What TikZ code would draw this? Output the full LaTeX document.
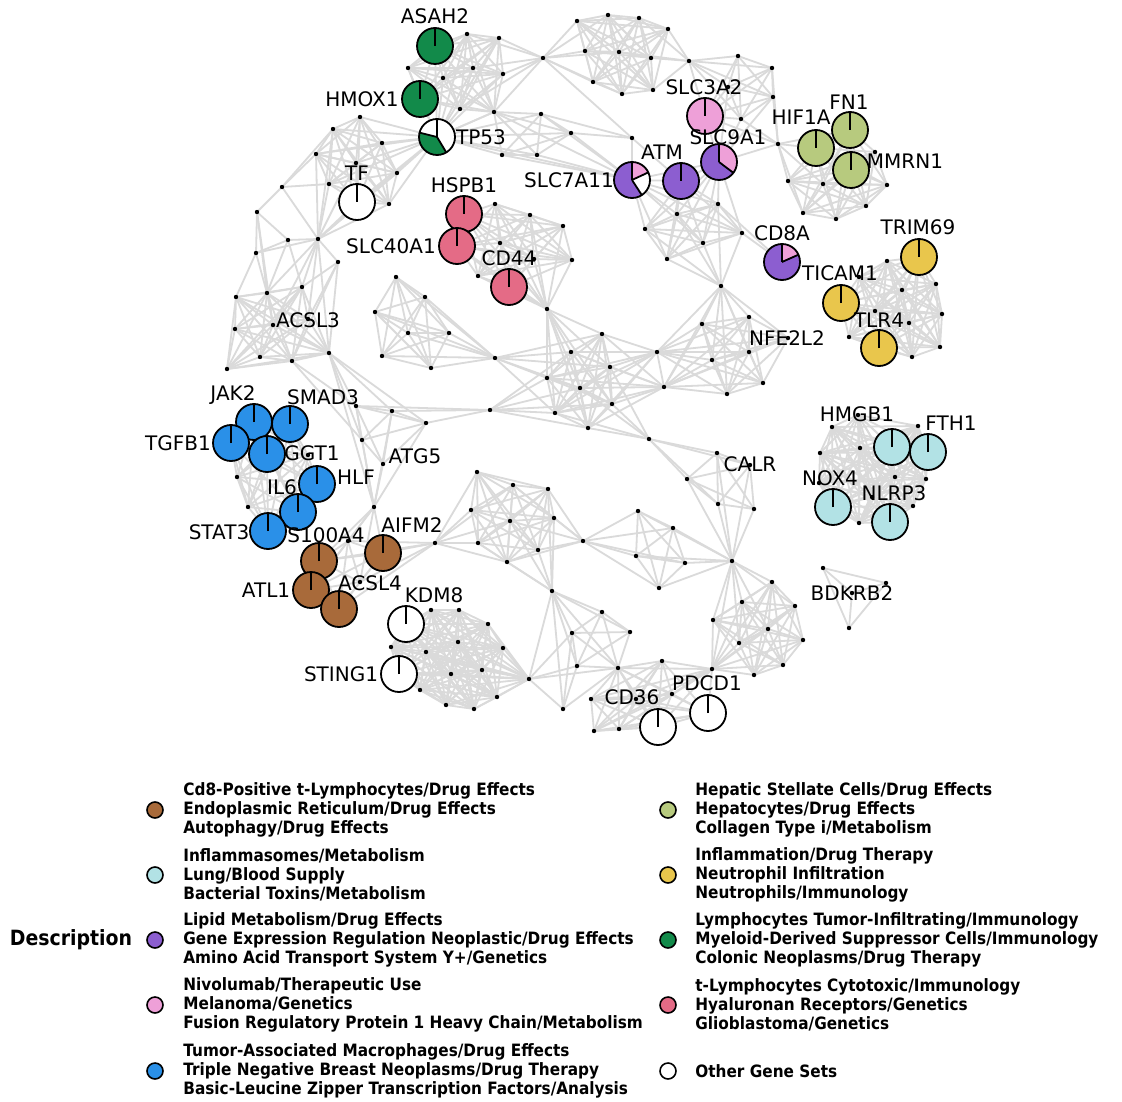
\documentclass[tikz,border=0pt]{standalone}
\usepackage{fontspec}
\setmainfont{DejaVu Sans}
\newfontfamily\legfont[FakeStretch=0.9]{DejaVu Sans}
\definecolor{edgec}{RGB}{218,218,218}
\definecolor{brownc}{RGB}{168,106,58}
\definecolor{cyanc}{RGB}{178,226,229}
\definecolor{purplec}{RGB}{140,94,208}
\definecolor{pinkc}{RGB}{238,160,216}
\definecolor{bluec}{RGB}{42,144,232}
\definecolor{olivec}{RGB}{183,202,126}
\definecolor{yellowc}{RGB}{233,198,76}
\definecolor{dgreenc}{RGB}{18,138,74}
\definecolor{redc}{RGB}{228,107,134}
\tikzset{
  edge/.style={draw=edgec,line width=0.9pt},
  pb/.style={draw=black,line width=0.9pt},
  glabel/.style={inner sep=0pt,font=\fontsize{10}{12}\selectfont},
  legdot/.style={circle,draw=black,line width=0.8pt,minimum size=8pt,inner sep=0pt},
  legtext/.style={anchor=west,align=left,inner sep=0pt,font=\legfont\bfseries\fontsize{8.5}{9.35}\selectfont},
}
\newcommand\clique[1]{%
 \foreach \ua [count=\ci] in {#1}{%
  \foreach \ub [count=\cj] in {#1}{%
   \ifnum\cj>\ci\relax\draw[edge] (\ua) -- (\ub);\fi}}}
\newcommand\fanout[2]{\foreach \ub in {#2}{\draw[edge] (#1) -- (\ub);}}
\newcommand\pieone[2]{\fill[#2] (#1) circle (9pt); \draw[pb] (#1) circle (9pt); \draw[pb] (#1) -- ++(0pt,9pt);}
\newcommand\sector[4]{\fill[#2] (#1) -- ++(#3:9pt) arc[start angle=#3, end angle=#4, radius=9pt] -- cycle;}
\newcommand\spoke[2]{\draw[pb] (#1) -- ++(#2:9pt);}
\begin{document}
\begin{tikzpicture}[x=0.5pt,y=-0.5pt]
\useasboundingbox (0,0) rectangle (1122,1101);
\fill[white] (0,0) rectangle (1122,1101);
% ---------- coordinates ----------
\foreach \n/\x/\y in {a1/467/34,a2/499/38,a3/408/68,a4/473/68,a5/443/78,a6/503/74,a7/460/109,a8/494/112,
 ASAH2/435/46,HMOX1/420/99,TP53/437/137,h1/543/58,
 j1/577/21,j2/608/15,j3/639/18,j4/668/29,j5/585/51,j6/619/52,j7/651/58,j8/593/82,j9/622/94,j10/653/90,
 h2/689/61,k1/738/56,k2/772/68,k3/773/97,k4/741/119,k5/728/87,SLC3A2/705/116,SLC9A1/719/162,h3/778/144,
 b2/541/114,b3/571/133,b4/502/155,b5/537/155,s0/632/138,
 SLC7A11/632/180,ATM/681/181,i1/718/204,i2/677/214,i3/645/229,i4/742/233,i5/703/243,i6/667/259,h4/721/286,CD8A/782/262,
 l2/875/152,l3/788/181,l4/823/184,l5/887/185,l6/803/213,l7/836/219,l8/866/206,HIF1A/816/148,FN1/850/130,MMRN1/851/170,
 m1/887/261,m2/859/277,m3/902/290,m4/936/284,m5/875/311,m6/909/323,m7/942/314,m8/849/337,m9/912/357,m10/940/347,
 TRIM69/919/257,TICAM1/841/303,TLR4/879/348,
 n1/702/324,n2/749/317,n3/657/352,n4/712/360,n5/749/352,n6/788/338,n7/664/387,n8/727/394,n9/763/383,
 g1/602/334,g2/571/352,g3/610/367,g4/547/378,g5/580/388,g6/612/404,g7/555/413,g8/588/428,g9/495/358,g10/490/410,g11/649/439,
 f1/495/204,f2/530/215,f3/563/226,f4/500/243,f5/534/259,f6/547/309,f7/572/260,f8/478/276,HSPB1/464/214,SLC40A1/457/246,CD44/509/287,
 e1/396/277,e2/425/297,e3/375/312,e4/408/333,e5/449/333,e6/382/356,e7/431/368,
 c1/360/117,c2/333/129,c3/382/143,c4/316/154,c5/356/163,c6/397/173,c7/329/184,c8/389/204,c9/282/187,TF/357/202,
 d0/318/239,d1/257/212,d2/288/240,d3/256/253,d4/338/262,d5/302/287,d6/236/297,d7/267/293,d8/235/329,d9/273/325,
 d10/308/319,d11/260/357,d12/292/361,d13/329/353,d14/227/369,
 JAK2/254/422,SMAD3/290/424,TGFB1/231/443,GGT1/267/454,HLF/317/484,IL6/298/512,STAT3/268/531,o1/237/477,o2/248/507,o3/308/455,
 p1/356/406,p2/392/411,p3/426/423,p4/362/440,p5/383/464,q0/374/507,
 S100A4/319/561,AIFM2/383/553,ATL1/311/590,ACSL4/339/609,r1/348/541,r2/360/582,r3/435/543,
 q1/477/472,q2/513/485,q3/548/489,q4/471/510,q5/510/521,q6/554/518,q7/478/543,q8/538/550,q9/507/562,u0/583/541,u1/552/591,
 t1/638/511,t2/673/528,t3/636/556,t4/685/563,t5/659/588,v0/732/561,
 s1/717/453,s2/687/479,s3/750/465,s4/718/504,s5/754/509,
 w1/772/582,w2/742/602,w3/795/606,w4/713/620,w5/768/629,w6/739/643,w7/803/640,w8/783/665,w9/754/675,x0/712/669,
 y1/602/612,y2/572/633,y3/630/632,y4/577/666,y5/618/668,y6/563/709,z0/529/679,
 v1/662/661,v2/591/699,v3/672/694,v4/594/731,v5/619/729,v6/636/699,CD36/658/727,PDCD1/708/713,
 wa1/431/610,wa2/459/610,wa3/488/624,wa4/458/642,wa5/426/652,wa6/503/648,wa7/451/674,wa8/482/670,wa9/497/697,
 wa10/446/705,wa11/474/709,wa12/391/647,wa13/420/690,KDM8/406/624,STING1/399/674,
 x1/832/427,x2/918/426,x3/820/453,x4/860/448,x5/895/477,x6/926/479,x7/819/483,x8/872/497,x9/913/506,x10/859/523,x11/858/415,
 FTH1/928/452,HMGB1/892/447,NOX4/833/507,NLRP3/890/522,
 bd1/823/568,bd2/886/583,bd3/852/593,bd4/849/628}
 {\coordinate (\n) at (\x,\y);}
% ---------- edges ----------
\clique{a1,a2,a3,a4,a5,a6,a7,a8,ASAH2,HMOX1,TP53}
\fanout{h1}{a1,a2,a4,a6,a7,a8,j1,j2,j5,j6,j8,j9,s0}
\clique{j1,j2,j3,j4,j5,j6,j7,j8,j9,j10}
\fanout{h2}{j3,j4,j6,j7,j10,k1,k2,k3,k4,k5,SLC3A2}
\clique{k1,k2,k3,k4,k5,SLC3A2}
\fanout{SLC9A1}{SLC3A2,k4,k3,k5,h3}
\fanout{h3}{k2,k3,k4,SLC3A2,HIF1A,l3,l4,l6,FN1}
\clique{l2,l3,l4,l5,l6,l7,l8,HIF1A,FN1,MMRN1}
\clique{TP53,a8,b2,b3,b4,b5,SLC7A11}
\fanout{s0}{SLC7A11,b3,ATM,b2}
\clique{SLC7A11,ATM,SLC9A1,i1,i2,i3,i4,i5,i6}
\fanout{h4}{i1,i2,i3,i4,i5,i6}
\fanout{CD8A}{i4,i1}
\clique{m1,m2,m3,m4,m5,m6,m7,m8,m9,m10,TRIM69,TICAM1,TLR4}
\clique{h4,n1,n2,n3,n4,n5,n6,n7,n8,n9}
\clique{g1,g2,g3,g4,g5,g6,g7,g8}
\fanout{f6}{g1,g2,g3,g4,g5,g6,g7,g8}
\fanout{n3}{g1,g2,g3,g4,g5,g6,g7,g8}
\fanout{n7}{g1,g2,g3,g4,g5,g6,g7,g8}
\fanout{g9}{g1,g2,g3,g4,g5,g7}
\fanout{g10}{g2,g4,g5,g6,g7,g8,p1,p2,p3}
\fanout{g11}{g3,g5,g6,g7,g8,s1,s2,s3,s4}
\clique{HSPB1,SLC40A1,CD44,f1,f2,f3,f4,f5,f6,f7,f8}
\clique{e1,e2,e3,e4,e5,e6,e7,g9}
\clique{c1,c2,c3,c4,c5,c6,c7,c8,TF,TP53}
\fanout{d0}{c2,c4,c5,c6,c7,c8,c9,TF,TP53,d2,d3,d4,d5,d7,d9,d10,d13}
\fanout{c9}{c4,c2,c7,d1}
\fanout{d1}{d2,d3,d9,d7}
\fanout{d2}{d3,d5,d7}
\fanout{d4}{d13,d10,d5,d12}
\fanout{d3}{d6,d7}
\clique{d5,d6,d7,d8,d9,d10,d11,d12,d13,d14}
\clique{JAK2,SMAD3,TGFB1,GGT1,HLF,IL6,STAT3,o1,o2,o3}
\clique{p1,p2,p3,p4,p5}
\fanout{d13}{p1,p2,p3,p4,q0}
\fanout{d12}{p1,p4}
\fanout{q0}{p1,p2,p3,p4,p5,S100A4,AIFM2,r1,r2,ATL1}
\clique{S100A4,AIFM2,ATL1,ACSL4,r1,r2}
\fanout{r3}{AIFM2,r1,r2,ACSL4,S100A4,q1,q2,q4,q5,q7,q9}
\clique{q1,q2,q3,q4,q5,q6,q7,q8,q9}
\fanout{u0}{q2,q3,q5,q6,q8,q9}
\fanout{u1}{q3,q5,q6,q8,q9,q7}
\clique{u0,t1,t2,t3,t4,t5}
\fanout{v0}{t1,t2,t3,t4,t5,s1,s2,s3,s4,s5,w1,w2,w3,w4,w5,w6,x0}
\clique{s1,s2,s3,s4,s5}
\clique{w1,w2,w3,w4,w5,w6,w7,w8,w9,x0}
\clique{u1,y1,y2,y3,y4,y5}
\fanout{y6}{u1,y2,y4,y5}
\fanout{z0}{y2,y4,y6,u1,y5}
\clique{y5,v1,x0,v2,v3,v4,v5,v6,CD36,PDCD1}
\clique{wa1,wa2,wa3,wa4,wa5,wa6,wa7,wa8,wa9,wa10,wa11,wa12,wa13,KDM8,STING1,z0}
\clique{x1,x2,x3,x4,x5,x6,x7,x8,x9,x10,x11,FTH1,HMGB1,NOX4,NLRP3}
\clique{bd1,bd2,bd3,bd4}
% ---------- dots ----------
\foreach \n in {a1,a2,a3,a4,a5,a6,a7,a8,h1,j1,j2,j3,j4,j5,j6,j7,j8,j9,j10,h2,k1,k2,k3,k4,k5,h3,
 b2,b3,b4,b5,s0,i1,i2,i3,i4,i5,i6,h4,l2,l3,l4,l5,l6,l7,l8,m1,m2,m3,m4,m5,m6,m7,m8,m9,m10,
 n1,n2,n3,n4,n5,n6,n7,n8,n9,g1,g2,g3,g4,g5,g6,g7,g8,g9,g10,g11,f1,f2,f3,f4,f5,f6,f7,f8,
 e1,e2,e3,e4,e5,e6,e7,c1,c2,c3,c4,c5,c6,c7,c8,c9,d0,d1,d2,d3,d4,d5,d6,d7,d8,d9,d10,d11,d12,d13,d14,
 o1,o2,o3,p1,p2,p3,p4,p5,q0,r1,r2,r3,q1,q2,q3,q4,q5,q6,q7,q8,q9,u0,u1,t1,t2,t3,t4,t5,v0,
 s1,s2,s3,s4,s5,w1,w2,w3,w4,w5,w6,w7,w8,w9,x0,y1,y2,y3,y4,y5,y6,z0,v1,v2,v3,v4,v5,v6,
 wa1,wa2,wa3,wa4,wa5,wa6,wa7,wa8,wa9,wa10,wa11,wa12,wa13,
 x1,x2,x3,x4,x5,x6,x7,x8,x9,x10,x11,bd1,bd2,bd3,bd4}
 {\fill[black] (\n) circle (1.1pt);}
% ---------- pies ----------
\pieone{ASAH2}{dgreenc}
\pieone{HMOX1}{dgreenc}
\fill[white] (TP53) circle (9pt);
\sector{TP53}{dgreenc}{166}{301}
\draw[pb] (TP53) circle (9pt); \spoke{TP53}{90} \spoke{TP53}{166} \spoke{TP53}{301}
\pieone{TF}{white}
\pieone{HSPB1}{redc}
\pieone{SLC40A1}{redc}
\pieone{CD44}{redc}
\pieone{SLC3A2}{pinkc}
\fill[purplec] (SLC9A1) circle (9pt);
\sector{SLC9A1}{pinkc}{-37}{90}
\draw[pb] (SLC9A1) circle (9pt); \spoke{SLC9A1}{90} \spoke{SLC9A1}{-37}
\pieone{ATM}{purplec}
\fill[purplec] (SLC7A11) circle (9pt);
\sector{SLC7A11}{pinkc}{25}{90}
\sector{SLC7A11}{white}{-57}{25}
\draw[pb] (SLC7A11) circle (9pt); \spoke{SLC7A11}{90} \spoke{SLC7A11}{25} \spoke{SLC7A11}{-57}
\pieone{HIF1A}{olivec}
\pieone{FN1}{olivec}
\pieone{MMRN1}{olivec}
\fill[purplec] (CD8A) circle (9pt);
\sector{CD8A}{pinkc}{24}{90}
\draw[pb] (CD8A) circle (9pt); \spoke{CD8A}{90} \spoke{CD8A}{24}
\pieone{TRIM69}{yellowc}
\pieone{TICAM1}{yellowc}
\pieone{TLR4}{yellowc}
\pieone{HMGB1}{cyanc}
\pieone{FTH1}{cyanc}
\pieone{NOX4}{cyanc}
\pieone{NLRP3}{cyanc}
\pieone{SMAD3}{bluec}
\pieone{JAK2}{bluec}
\pieone{TGFB1}{bluec}
\pieone{GGT1}{bluec}
\pieone{HLF}{bluec}
\pieone{IL6}{bluec}
\pieone{STAT3}{bluec}
\pieone{AIFM2}{brownc}
\pieone{S100A4}{brownc}
\pieone{ATL1}{brownc}
\pieone{ACSL4}{brownc}
\pieone{KDM8}{white}
\pieone{STING1}{white}
\pieone{CD36}{white}
\pieone{PDCD1}{white}
% ---------- labels ----------
\foreach \n/\x/\y/\t in {ASAH2/435/16/ASAH2,HMOX1/362/99/HMOX1,TP53/481/137/TP53,TF/357/173/TF,
 HSPB1/464/185/HSPB1,SLC40A1/391/246/SLC40A1,CD44/509/258/CD44,SLC3A2/704/87/SLC3A2,
 SLC9A1/728/137/SLC9A1,ATM/662/152/ATM,SLC7A11/569/180/SLC7A11,HIF1A/801/117/HIF1A,FN1/849/102/FN1,
 MMRN1/905/161/MMRN1,CD8A/782/233/CD8A,TRIM69/918/227/TRIM69,TICAM1/840/273/TICAM1,TLR4/879/320/TLR4,
 NFE2L2/787/338/NFE2L2,ACSL3/308/320/ACSL3,JAK2/233/395/JAK2,SMAD3/323/397/SMAD3,TGFB1/178/443/TGFB1,
 GGT1/312/453/GGT1,HLF/356/477/HLF,IL6/282/487/IL6,STAT3/219/532/STAT3,S100A4/326/535/S100A4,
 AIFM2/412/525/AIFM2,ATL1/266/590/ATL1,ACSL4/370/583/ACSL4,KDM8/434/595/KDM8,STING1/341/674/STING1,
 ATG5/415/456/ATG5,CALR/750/464/CALR,CD36/632/697/CD36,PDCD1/707/683/PDCD1,HMGB1/857/414/HMGB1,
 FTH1/951/423/FTH1,NOX4/830/478/NOX4,NLRP3/894/493/NLRP3,BDKRB2/852/593/BDKRB2}
 {\node[glabel] (lab-\n) at (\x,\y) {\t};}
% ---------- legend ----------
\node[inner sep=0pt,font=\legfont\bfseries\fontsize{10.5}{12}\selectfont] (legtitle) at (71,940) {Description};
\node[legdot,fill=brownc] (ld1) at (155,810) {};
\node[legtext] (lt1) at (183,810) {Cd8-Positive t-Lymphocytes/Drug Effects\\Endoplasmic Reticulum/Drug Effects\\Autophagy/Drug Effects};
\node[legdot,fill=cyanc] (ld2) at (155,875) {};
\node[legtext] (lt2) at (183,875) {Inflammasomes/Metabolism\\Lung/Blood Supply\\Bacterial Toxins/Metabolism};
\node[legdot,fill=purplec] (ld3) at (155,940) {};
\node[legtext] (lt3) at (183,940) {Lipid Metabolism/Drug Effects\\Gene Expression Regulation Neoplastic/Drug Effects\\Amino Acid Transport System Y+/Genetics};
\node[legdot,fill=pinkc] (ld4) at (155,1005) {};
\node[legtext] (lt4) at (183,1005) {Nivolumab/Therapeutic Use\\Melanoma/Genetics\\Fusion Regulatory Protein 1 Heavy Chain/Metabolism};
\node[legdot,fill=bluec] (ld5) at (155,1071) {};
\node[legtext] (lt5) at (183,1071) {Tumor-Associated Macrophages/Drug Effects\\Triple Negative Breast Neoplasms/Drug Therapy\\Basic-Leucine Zipper Transcription Factors/Analysis};
\node[legdot,fill=olivec] (ld6) at (668,810) {};
\node[legtext] (lt6) at (695,810) {Hepatic Stellate Cells/Drug Effects\\Hepatocytes/Drug Effects\\Collagen Type i/Metabolism};
\node[legdot,fill=yellowc] (ld7) at (668,875) {};
\node[legtext] (lt7) at (695,875) {Inflammation/Drug Therapy\\Neutrophil Infiltration\\Neutrophils/Immunology};
\node[legdot,fill=dgreenc] (ld8) at (668,940) {};
\node[legtext] (lt8) at (695,940) {Lymphocytes Tumor-Infiltrating/Immunology\\Myeloid-Derived Suppressor Cells/Immunology\\Colonic Neoplasms/Drug Therapy};
\node[legdot,fill=redc] (ld9) at (668,1005) {};
\node[legtext] (lt9) at (695,1005) {t-Lymphocytes Cytotoxic/Immunology\\Hyaluronan Receptors/Genetics\\Glioblastoma/Genetics};
\node[legdot,fill=white] (ld10) at (668,1071) {};
\node[legtext] (lt10) at (695,1071) {Other Gene Sets};
\end{tikzpicture}
\end{document}
